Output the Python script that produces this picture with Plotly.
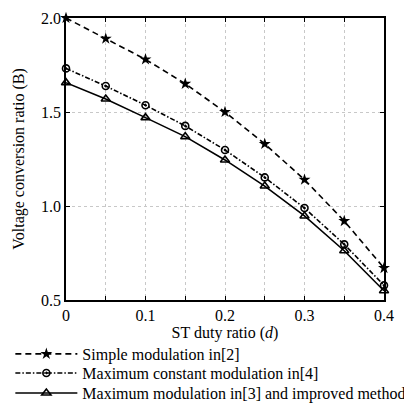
import plotly.graph_objects as go

# ST duty ratio samples
duty = [0, 0.05, 0.1, 0.15, 0.2, 0.25, 0.3, 0.35, 0.4]

# Voltage conversion ratio B for each modulation scheme
simple_mod = [2.0, 1.89, 1.78, 1.65, 1.50, 1.33, 1.14, 0.92, 0.67]
max_const_mod = [1.732, 1.638, 1.536, 1.426, 1.298, 1.152, 0.989, 0.796, 0.578]
max_mod = [1.656, 1.569, 1.470, 1.369, 1.245, 1.106, 0.947, 0.762, 0.549]

series_names = [
    "Simple modulation in[2]",
    "Maximum constant modulation in[4]",
    "Maximum modulation in[3] and improved method",
]

x_tickvals = [0, 0.05, 0.1, 0.15, 0.2, 0.25, 0.3, 0.35, 0.4]
x_ticktext = ["0", "", "0.1", "", "0.2", "", "0.3", "", "0.4"]
y_tickvals = [0.5, 1.0, 1.5, 2.0]
y_ticktext = ["0.5", "1.0", "1.5", "2.0"]

FONT = "Liberation Serif"

fig = go.Figure()
fig.add_trace(go.Scatter(
    x=duty, y=simple_mod, name=series_names[0], mode="lines+markers",
    line=dict(color="black", width=1.6, dash="6px,4px"),
    marker=dict(symbol="star", size=9, color="black"),
    cliponaxis=False, legend="legend",
))
fig.add_trace(go.Scatter(
    x=duty, y=max_const_mod, name=series_names[1], mode="lines+markers",
    line=dict(color="black", width=1.6, dash="5px,2px,1.5px,2px"),
    marker=dict(symbol="circle-open-dot", size=7, color="black",
                line=dict(width=1.6, color="black")),
    cliponaxis=False, legend="legend2",
))
fig.add_trace(go.Scatter(
    x=duty, y=max_mod, name=series_names[2], mode="lines+markers",
    line=dict(color="black", width=1.6),
    marker=dict(symbol="triangle-up-open", size=8, color="black",
                line=dict(width=1.6, color="black")),
    cliponaxis=False, legend="legend3",
))

# one single-entry legend per series, stacked below the axes
def legend_box(ypos):
    return dict(
        x=-0.175, y=ypos, xanchor="left", yanchor="middle",
        orientation="v", bgcolor="rgba(0,0,0,0)",
        font=dict(family=FONT, size=16, color="black"),
        itemwidth=62, borderwidth=0,
    )

fig.update_layout(
    width=404, height=405,
    margin=dict(l=66, r=20, t=18, b=105, autoexpand=False),
    paper_bgcolor="white", plot_bgcolor="white",
    font=dict(family=FONT, size=16, color="black"),
    legend=legend_box(-0.1915),
    legend2=legend_box(-0.259),
    legend3=legend_box(-0.330),
    showlegend=True,
)

fig.update_xaxes(
    range=[0, 0.4], tickmode="array", tickvals=x_tickvals, ticktext=x_ticktext,
    showgrid=True, gridcolor="#c8c8c8", griddash="dot", gridwidth=1,
    showline=True, linecolor="black", linewidth=1.5, mirror="ticks",
    ticks="inside", ticklen=4, tickcolor="black", zeroline=False,
    tickfont=dict(family=FONT, size=16),
    title=dict(text="ST duty ratio (<i>d</i>)", font=dict(family=FONT, size=16), standoff=4),
)
fig.update_yaxes(
    range=[0.5, 2.0], tickmode="array", tickvals=y_tickvals, ticktext=y_ticktext,
    showgrid=True, gridcolor="#c8c8c8", griddash="dot", gridwidth=1,
    showline=True, linecolor="black", linewidth=1.5, mirror="ticks",
    ticks="inside", ticklen=4, tickcolor="black", zeroline=False,
    tickfont=dict(family=FONT, size=16),
    title=dict(text="Voltage conversion ratio (B)", font=dict(family=FONT, size=16), standoff=12),
)

fig.write_html("out.html")
